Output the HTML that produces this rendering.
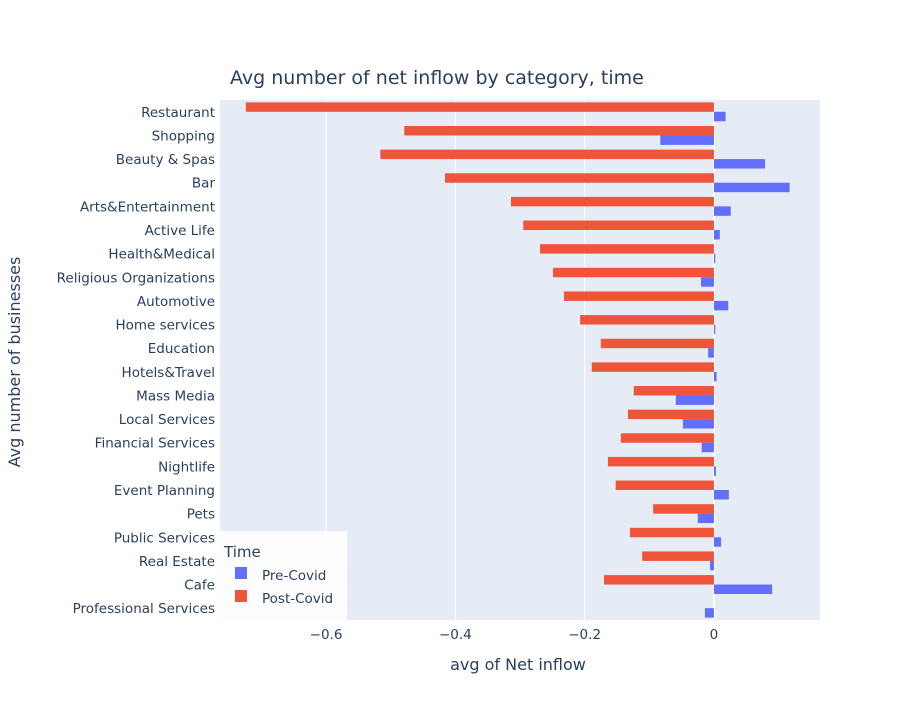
<!DOCTYPE html>
<html><head><meta charset="utf-8"><style>
body{margin:0;background:#fff;font-family:"DejaVu Sans","Liberation Sans",sans-serif}
svg text{font-family:"DejaVu Sans","Liberation Sans",sans-serif}
</style></head><body>
<svg id="chart" width="900" height="700" xmlns="http://www.w3.org/2000/svg">
<rect width="900" height="700" fill="#fff"/>
<rect x="220" y="100" width="600" height="520" fill="#e5ecf6"/>
<g id="grid"></g><g id="bars"></g><g id="labels"></g>
<text x="230" y="84" font-size="19" fill="#2a3f5f">Avg number of net inflow by category, time</text>
<text x="518" y="670" font-size="16" fill="#2a3f5f" text-anchor="middle">avg of Net inflow</text>
<text transform="translate(20,362) rotate(-90)" font-size="16" fill="#2a3f5f" text-anchor="middle">Avg number of businesses</text>
<g>
<rect x="220" y="531" width="127" height="89" fill="#fff" opacity="0.9"/>
<text x="224" y="557" font-size="15" fill="#2a3f5f">Time</text>
<g><rect x="235" y="567" width="12" height="12" fill="#636efa"/><text x="262" y="580" font-size="13.5" fill="#2a3f5f">Pre-Covid</text></g>
<g><rect x="235" y="590" width="12" height="12" fill="#ef553b"/><text x="262" y="603" font-size="13.5" fill="#2a3f5f">Post-Covid</text></g>
</g>
</svg>
<script>
const categories=["Restaurant","Shopping","Beauty & Spas","Bar","Arts&Entertainment","Active Life","Health&Medical","Religious Organizations","Automotive","Home services","Education","Hotels&Travel","Mass Media","Local Services","Financial Services","Nightlife","Event Planning","Pets","Public Services","Real Estate","Cafe","Professional Services"];
const postCovid=[-0.724,-0.479,-0.516,-0.416,-0.314,-0.295,-0.269,-0.249,-0.232,-0.207,-0.175,-0.189,-0.124,-0.133,-0.144,-0.164,-0.152,-0.094,-0.13,-0.111,-0.17,0];
const preCovid=[0.018,-0.083,0.079,0.117,0.026,0.009,0.002,-0.02,0.022,0.002,-0.009,0.004,-0.059,-0.048,-0.019,0.003,0.023,-0.025,0.011,-0.006,0.09,-0.014];
const xTicks=[-0.6,-0.4,-0.2,0];
const xTickLabels=["\u22120.6","\u22120.4","\u22120.2","0"];
const NS="http://www.w3.org/2000/svg";
const X0=220,X1=820,Y0=100,Y1=620,xmin=-0.764,xmax=0.164;
const x=v=>X0+(v-xmin)/(xmax-xmin)*(X1-X0);
const band=(Y1-Y0)/categories.length;
const y=i=>Y0+i*band;
function mk(tag,attrs,parent){const e=document.createElementNS(NS,tag);for(const k in attrs)e.setAttribute(k,attrs[k]);parent.appendChild(e);return e;}
const grid=document.getElementById('grid'),bars=document.getElementById('bars'),labels=document.getElementById('labels');
xTicks.forEach((t,i)=>{
 const l=mk('line',{x1:x(t),x2:x(t),y1:Y0,y2:Y1,stroke:'#fff','stroke-width':t===0?2:1},grid);
 
 
 const tx=mk('text',{x:x(t),y:Y1+19,'font-size':13.5,fill:'#2a3f5f','text-anchor':'middle'},labels);
 tx.textContent=xTickLabels[i];
 
 
});
const pad=band*0.1,bh=band*0.4;
categories.forEach((c,i)=>{
 const t=mk('text',{x:X0-5,y:y(i)+band/2+5,'font-size':13.5,fill:'#2a3f5f','text-anchor':'end'},labels);
 t.textContent=c;
 
 
 const pv=postCovid[i];
 const r1=mk('rect',{x:Math.min(x(pv),x(0)),y:y(i)+pad,width:Math.abs(x(pv)-x(0)),height:bh,fill:'#ef553b'},bars);
 
 
 const qv=preCovid[i];
 const r2=mk('rect',{x:Math.min(x(qv),x(0)),y:y(i)+pad+bh,width:Math.abs(x(qv)-x(0)),height:bh,fill:'#636efa'},bars);
 
 
});
</script>
</body></html>
